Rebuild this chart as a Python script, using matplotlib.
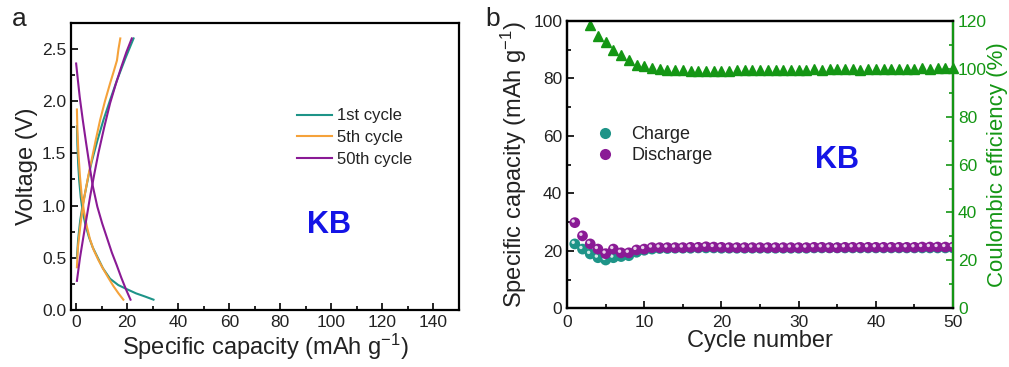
import matplotlib
matplotlib.use("Agg")
import matplotlib.pyplot as plt
from matplotlib.ticker import MultipleLocator
from matplotlib.transforms import offset_copy
from matplotlib.lines import Line2D
from matplotlib.legend_handler import HandlerTuple

plt.rcParams['font.family'] = ['Liberation Sans', 'DejaVu Sans']
plt.rcParams['mathtext.fontset'] = 'custom'
plt.rcParams['mathtext.rm'] = 'Liberation Sans'
plt.rcParams['mathtext.it'] = 'Liberation Sans:italic'
plt.rcParams['mathtext.bf'] = 'Liberation Sans:bold'
plt.rcParams['axes.unicode_minus'] = False

# ---------------- data: panel a ----------------
c1_dis_cap = [0.3, 0.5, 0.8, 1.2, 1.8, 2.6, 3.6, 5.0, 6.5, 8.1, 10.5, 13.3, 16.5, 19.9, 23.5, 27.0, 30.3]
c1_dis_v = [1.76, 1.58, 1.40, 1.24, 1.08, 0.94, 0.82, 0.70, 0.60, 0.52, 0.40, 0.30, 0.24, 0.20, 0.16, 0.13, 0.10]
c1_chg_cap = [0.3, 0.8, 1.6, 2.5, 3.5, 4.8, 6.1, 8.3, 10.7, 13.3, 16.0, 19.3, 22.5]
c1_chg_v = [0.50, 0.68, 0.86, 1.00, 1.12, 1.28, 1.42, 1.62, 1.82, 2.01, 2.20, 2.41, 2.60]

c5_dis_cap = [0.3, 0.5, 0.9, 1.5, 2.2, 3.1, 4.2, 5.4, 6.8, 8.7, 10.7, 12.6, 14.6, 16.6, 18.5]
c5_dis_v = [1.92, 1.72, 1.50, 1.28, 1.09, 0.94, 0.80, 0.68, 0.58, 0.48, 0.39, 0.31, 0.23, 0.16, 0.10]
c5_chg_cap = [0.3, 0.7, 1.6, 2.5, 3.5, 4.8, 6.1, 7.7, 9.4, 11.3, 13.3, 14.8, 16.0, 16.6, 17.3]
c5_chg_v = [0.41, 0.60, 0.80, 0.97, 1.12, 1.29, 1.44, 1.63, 1.82, 2.00, 2.17, 2.29, 2.39, 2.50, 2.60]

c50_dis_cap = [0.0, 0.6, 1.4, 2.6, 3.9, 5.2, 6.5, 8.3, 10.2, 12.1, 14.0, 15.9, 17.7, 19.5, 21.3]
c50_dis_v = [2.36, 2.22, 2.04, 1.82, 1.60, 1.39, 1.19, 0.99, 0.83, 0.69, 0.55, 0.43, 0.31, 0.20, 0.10]
c50_chg_cap = [0.3, 1.5, 2.9, 4.2, 5.5, 7.1, 8.7, 11.0, 13.3, 15.5, 17.6, 19.7, 21.8]
c50_chg_v = [0.28, 0.50, 0.71, 0.90, 1.09, 1.30, 1.50, 1.75, 1.98, 2.16, 2.32, 2.47, 2.60]

# ---------------- data: panel b ----------------
cycles = list(range(1, 51))
charge = [22.4, 20.6, 18.9, 17.6, 16.8, 17.6, 18.0, 18.3, 19.5, 20.2,
          20.6, 20.8, 20.8, 20.9, 20.9, 20.9, 21.0, 21.0, 21.0, 20.9,
          20.9, 20.9, 20.9, 20.9, 20.9, 20.9, 20.9, 20.9, 20.9, 20.9,
          20.9, 21.0, 21.0, 21.0, 21.0, 21.0, 21.0, 21.0, 21.0, 21.0,
          21.0, 21.0, 21.0, 21.0, 21.0, 21.0, 21.0, 21.0, 21.0, 21.0]
discharge = [29.8, 25.2, 22.4, 20.6, 19.0, 20.6, 19.3, 19.3, 20.3, 20.6,
             21.1, 21.1, 21.1, 21.1, 21.1, 21.2, 21.2, 21.4, 21.3, 21.2,
             21.1, 21.1, 21.1, 21.1, 21.1, 21.1, 21.1, 21.1, 21.1, 21.1,
             21.1, 21.2, 21.2, 21.1, 21.1, 21.2, 21.2, 21.2, 21.2, 21.2,
             21.2, 21.2, 21.2, 21.2, 21.2, 21.3, 21.3, 21.3, 21.3, 21.3]
ce_cycles = list(range(3, 51))
ce = [118.4, 113.5, 111.4, 108.0, 105.9, 103.8, 101.7, 101.0, 100.3, 99.8,
      99.6, 99.4, 99.3, 99.2, 99.1, 99.0, 99.0, 99.1, 99.2, 99.3,
      99.5, 99.4, 99.4, 99.6, 99.5, 99.7, 99.6, 99.7, 99.6, 99.8,
      99.7, 99.8, 99.8, 100.0, 99.8, 99.7, 99.9, 100.0, 99.9, 100.1,
      100.0, 100.1, 100.1, 100.2, 100.1, 100.2, 100.2, 100.2]

TEAL = '#1e9488'
ORANGE = '#f5a23a'
PURPLE = '#8a1a95'
GREEN = '#149614'
BLUE = '#1414e6'
TXT = '#222222'

fig = plt.figure(figsize=(10.09, 3.67), dpi=100)
axa = fig.add_axes([0.0704, 0.155, 0.3845, 0.783])
axb = fig.add_axes([0.562, 0.160, 0.3826, 0.783])

tick_fs = 12.5
label_fs = 17

def style_axis(ax):
    for s in ax.spines.values():
        s.set_linewidth(1.6)
    ax.tick_params(which='both', direction='in', labelsize=tick_fs, colors='black',
                   labelcolor=TXT, width=1.2)
    ax.tick_params(which='major', length=5)
    ax.tick_params(which='minor', length=3)

# ---------------- panel a ----------------
lw = 1.5
axa.plot(c1_dis_cap, c1_dis_v, color=TEAL, lw=lw, label='1st cycle')
axa.plot(c1_chg_cap, c1_chg_v, color=TEAL, lw=lw)
axa.plot(c5_dis_cap, c5_dis_v, color=ORANGE, lw=lw, label='5th cycle')
axa.plot(c5_chg_cap, c5_chg_v, color=ORANGE, lw=lw)
axa.plot(c50_dis_cap, c50_dis_v, color=PURPLE, lw=lw, label='50th cycle')
axa.plot(c50_chg_cap, c50_chg_v, color=PURPLE, lw=lw)
axa.set_xlim(-2, 150)
axa.set_ylim(0, 2.75)
axa.xaxis.set_major_locator(MultipleLocator(20))
axa.xaxis.set_minor_locator(MultipleLocator(10))
axa.yaxis.set_major_locator(MultipleLocator(0.5))
axa.yaxis.set_minor_locator(MultipleLocator(0.25))
axa.yaxis.set_major_formatter(plt.FuncFormatter(lambda v, p: f"{v:.1f}"))
style_axis(axa)
axa.set_xlabel('Specific capacity (mAh g$^{-1}$)', fontsize=label_fs, color=TXT, labelpad=1)
axa.set_ylabel('Voltage (V)', fontsize=label_fs, color=TXT, labelpad=3)
axa.legend(loc='upper left', bbox_to_anchor=(0.566, 0.725), frameon=False, fontsize=12,
           handlelength=2.1, handletextpad=0.3, labelspacing=0.4, labelcolor=TXT,
           borderaxespad=0.0)
axa.text(0.665, 0.295, 'KB', transform=axa.transAxes, fontsize=22, fontweight='bold',
         color=BLUE, ha='center', va='center')
fig.text(0.012, 0.948, 'a', fontsize=19, color=TXT, ha='left', va='center')

# ---------------- panel b ----------------
hl = offset_copy(axb.transData, fig=fig, x=-1.6, y=1.6, units='dots')
axb.scatter(cycles, charge, s=60, color=TEAL, edgecolors='none', zorder=3)
axb.scatter(cycles, charge, s=6, color='white', alpha=0.8, edgecolors='none',
            transform=hl, zorder=3.1)
axb.scatter(cycles, discharge, s=60, color=PURPLE, edgecolors='none', zorder=4)
axb.scatter(cycles, discharge, s=6, color='white', alpha=0.8, edgecolors='none',
            transform=hl, zorder=4.1)
axb.set_xlim(0, 50)
axb.set_ylim(0, 100)
axb.xaxis.set_major_locator(MultipleLocator(10))
axb.xaxis.set_minor_locator(MultipleLocator(5))
axb.yaxis.set_major_locator(MultipleLocator(20))
axb.yaxis.set_minor_locator(MultipleLocator(10))
style_axis(axb)
axb.tick_params(axis='x', which='major', pad=5)
axb.set_xlabel('Cycle number', fontsize=label_fs, color=TXT, labelpad=0)
axb.set_ylabel('Specific capacity (mAh g$^{-1}$)', fontsize=label_fs, color=TXT, labelpad=3)

h_c = (Line2D([], [], ls='none', marker='o', ms=8, color=TEAL, mec='none'),
       Line2D([], [], ls='none', marker='o', ms=2.5, color='white', mec='none'))
h_d = (Line2D([], [], ls='none', marker='o', ms=8, color=PURPLE, mec='none'),
       Line2D([], [], ls='none', marker='o', ms=2.5, color='white', mec='none'))
axb.legend([h_c, h_d], ['Charge', 'Discharge'], handler_map={tuple: HandlerTuple(ndivide=None)},
           loc='upper left', bbox_to_anchor=(0.075, 0.66), frameon=False, fontsize=13,
           handlelength=0.8, handletextpad=0.75, labelspacing=0.25, labelcolor=TXT,
           borderaxespad=0.0)
axb.text(0.70, 0.515, 'KB', transform=axb.transAxes, fontsize=22, fontweight='bold',
         color=BLUE, ha='center', va='center')
fig.text(0.481, 0.948, 'b', fontsize=19, color=TXT, ha='left', va='center')

axr = axb.twinx()
axr.plot(ce_cycles, ce, ls='none', marker='^', ms=7.5, color=GREEN, mec=GREEN, clip_on=False)
axr.set_ylim(0, 120)
axr.yaxis.set_major_locator(MultipleLocator(20))
axr.yaxis.set_minor_locator(MultipleLocator(10))
for s in axr.spines.values():
    s.set_linewidth(1.6)
axr.spines['right'].set_color(GREEN)
axr.tick_params(which='both', direction='in', labelsize=tick_fs, colors=GREEN, width=1.2)
axr.tick_params(which='major', length=5)
axr.tick_params(which='minor', length=3)
axr.set_ylabel('Coulombic efficiency (%)', fontsize=16, color=GREEN,
               rotation=90, labelpad=0)

fig.savefig('out.png', dpi=100)
